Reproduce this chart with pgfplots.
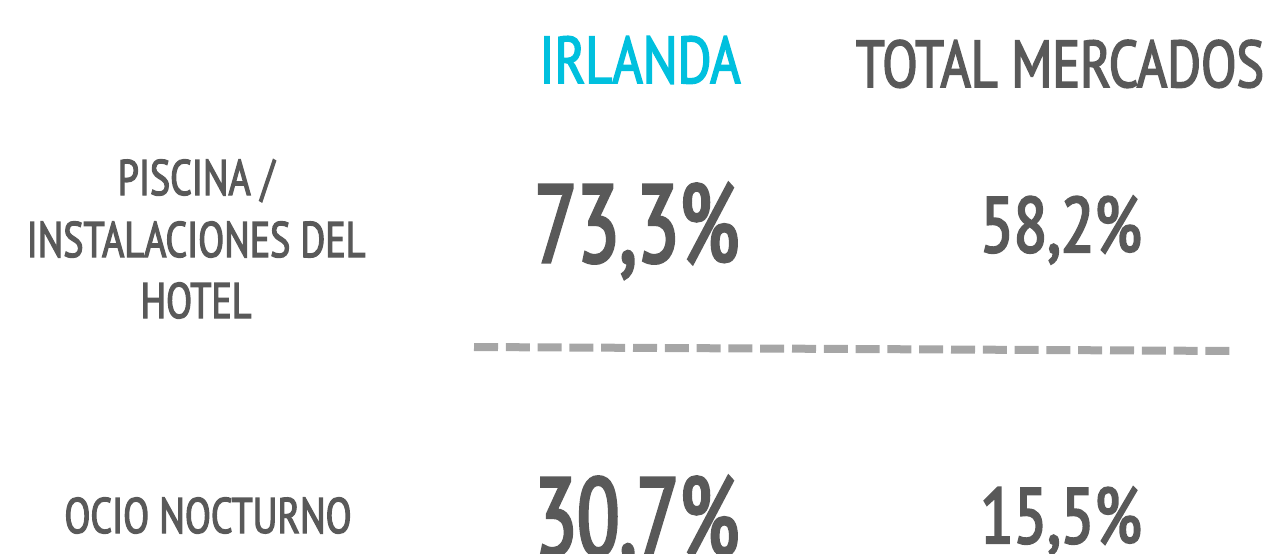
\documentclass[border=0pt]{standalone}
\usepackage{pgfplots}
\pgfplotsset{compat=1.18}
\usepackage{pgfplotstable}
\usepackage{fontspec}
\setmainfont[FakeStretch=0.76,FakeBold=2.5]{PT Sans}
\newfontfamily\headfont[FakeStretch=0.785,FakeBold=2.5]{PT Sans}
\newfontfamily\bignumfont[FakeStretch=0.705,FakeBold=3]{PT Sans}
\newfontfamily\smallnumfont[FakeStretch=0.785,FakeBold=3]{PT Sans}
\definecolor{txtgray}{HTML}{595959}
\definecolor{cyanhead}{HTML}{00C0DE}
\definecolor{dashgray}{HTML}{A6A6A6}

\pgfplotstableread{
x y v
637 262 73.3
637 555 30.7
}\irlanda
\pgfplotstableread{
x y v
1061 252 58.2
1061 543 15.5
}\total
\pgfplotstableread{
x y
474 347
1236 351
}\sep

\begin{document}
\begin{tikzpicture}
\useasboundingbox (0,0) rectangle (636pt,276.5pt);
\clip (0,0) rectangle (636pt,276.5pt);
\begin{axis}[
  hide axis, scale only axis,
  width=636pt, height=276.5pt,
  xmin=0, xmax=1272, ymin=0, ymax=553,
  y dir=reverse, clip=false,
  /pgf/number format/assume math mode=true,
]
\addplot[dashgray, line width=4pt, dash pattern=on 12pt off 3.9pt] table[x=x,y=y]{\sep};

\addplot[only marks, mark=none, point meta=explicit,
  nodes near coords={\pgfmathprintnumber[fixed,fixed zerofill,precision=1,use comma]{\pgfplotspointmeta}\%},
  every node near coord/.append style={anchor=base, inner sep=0pt, text=txtgray, font=\bignumfont\fontsize{55}{60}\selectfont}]
  table[x=x,y=y,meta=v]{\irlanda};
\addplot[only marks, mark=none, point meta=explicit,
  nodes near coords={\pgfmathprintnumber[fixed,fixed zerofill,precision=1,use comma]{\pgfplotspointmeta}\%},
  every node near coord/.append style={anchor=base, inner sep=0pt, text=txtgray, font=\smallnumfont\fontsize{39}{44}\selectfont}]
  table[x=x,y=y,meta=v]{\total};

\node[anchor=base, inner sep=0pt, text=cyanhead, font=\headfont\fontsize{33}{38}\selectfont] at (axis cs:640,83) {IRLANDA};
\node[anchor=base, inner sep=0pt, text=txtgray, font=\headfont\fontsize{33}{38}\selectfont] at (axis cs:1060,87) {TOTAL MERCADOS};

\node[anchor=base, inner sep=0pt, text=txtgray, font=\fontsize{25}{30}\selectfont] at (axis cs:196,195) {PISCINA /};
\node[anchor=base, inner sep=0pt, text=txtgray, font=\fontsize{25}{30}\selectfont] at (axis cs:196,257) {INSTALACIONES DEL};
\node[anchor=base, inner sep=0pt, text=txtgray, font=\fontsize{25}{30}\selectfont] at (axis cs:196,318) {HOTEL};
\node[anchor=base, inner sep=0pt, text=txtgray, font=\fontsize{25}{30}\selectfont] at (axis cs:208,533) {OCIO NOCTURNO};
\end{axis}
\end{tikzpicture}
\end{document}
